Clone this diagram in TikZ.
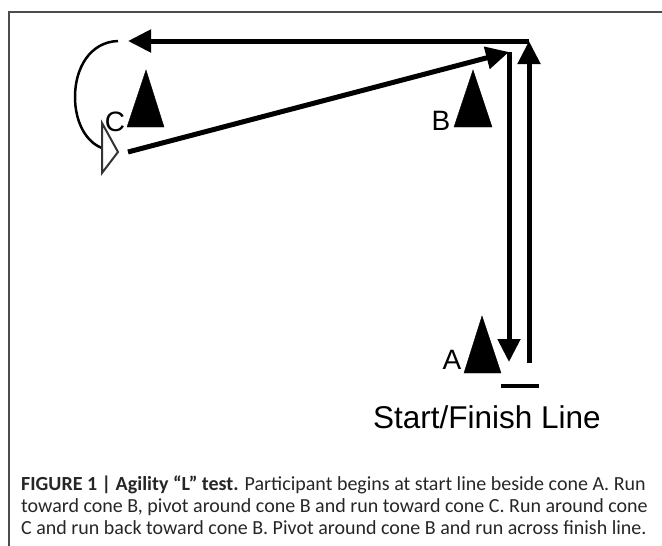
\documentclass[tikz,border=0pt]{standalone}
\usepackage{fontspec}
\setmainfont{Liberation Sans}
\newfontfamily\captionfont{Carlito}
\usetikzlibrary{arrows.meta}
\tikzset{
  cone/.style={fill=black},
  run/.style={line width=5pt,-{Triangle[length=23pt,width=22pt]}},
  conelabel/.style={font=\fontsize{28}{28}\selectfont,inner sep=0pt},
}
\begin{document}
\begin{tikzpicture}[x=1pt,y=-1pt]
      \useasboundingbox (0,0) rectangle (662,546);
      \draw[line width=1.2pt,black!70] (9,546) -- (9,12) -- (662,12);
      % cones
      \draw[cone] (146,70) -- (127,127) -- (164,127) -- cycle;
      \draw[cone] (473,70) -- (454,127) -- (492,127) -- cycle;
      \draw[cone] (482,316) -- (464,373) -- (501,373) -- cycle;
      \node[conelabel] (labelC) at (115,122) {C};
      \node[conelabel] (labelB) at (441,121) {B};
      \node[conelabel] (labelA) at (452,360) {A};
      % path points
      \coordinate (corner) at (529,41);
      \coordinate (inner) at (509,52);
      \coordinate (end) at (529,363);
      \coordinate (turn) at (128,41);
      \coordinate (back) at (128,152);
      \coordinate (foot) at (509,362);
      \begin{scope}
        \draw[run] (end) -- (corner);
        \draw[run] (corner) -- (turn);
        \draw[run] (inner) -- (foot);
        \draw[run] (back) -- (inner);
      \end{scope}
      % turn around cone C
      \coordinate (arcstart) at (118,41);
      \coordinate (arcend) at (102,148);
      \draw[line width=2.5pt] (arcstart) .. controls (90,42) and (75,68) .. (75,97)
        .. controls (75,122) and (86,142) .. (arcend);
      \draw[line width=2pt,fill=white,draw=black!80] (102,123) -- (118,152) -- (102,173) -- cycle;
      % start line
      \coordinate (lineL) at (501,386);
      \coordinate (lineR) at (539,386);
      \draw[line width=3.5pt] (lineL) -- (lineR);
      \node[font=\fontsize{31.5}{32}\selectfont,inner sep=0pt] (startfinish) at (487,417) {Start/Finish Line};
      \node[anchor=north west,inner sep=0pt,align=left,font=\captionfont\fontsize{20}{22}\selectfont,text=black!85] (caption) at (21,476)
        {\textbf{FIGURE 1 | Agility “L” test.} Participant begins at start line beside cone A. Run\\
         toward cone B, pivot around cone B and run toward cone C. Run around cone\\
         C and run back toward cone B. Pivot around cone B and run across finish line.};
    \end{tikzpicture}
\end{document}
